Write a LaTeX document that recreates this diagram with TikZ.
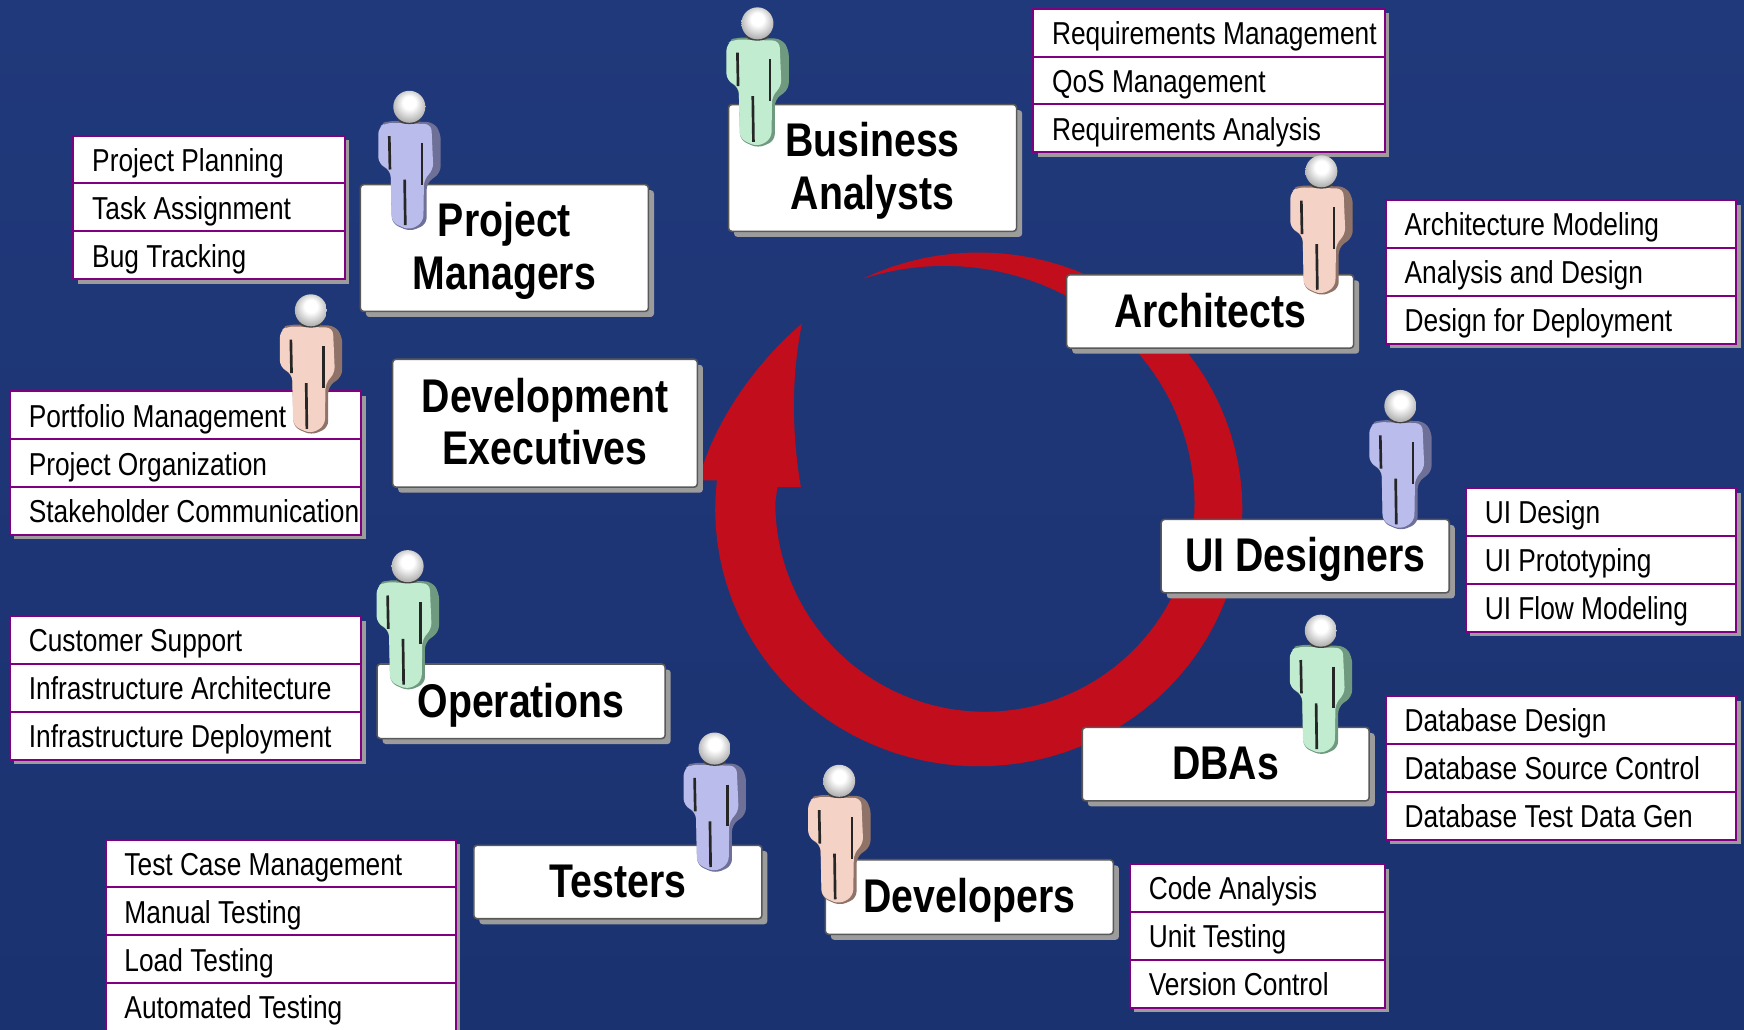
\documentclass[tikz,border=0pt]{standalone}
\usepackage{fontspec}
\setmainfont{Liberation Sans}
\newfontfamily\narrowfont[FakeStretch=0.83]{Liberation Sans}
\usetikzlibrary{shadows}
\definecolor{bgtop}{HTML}{20397A}
\definecolor{bgbottom}{HTML}{1B3270}
\definecolor{arrowred}{HTML}{C20D1D}
\definecolor{listpurple}{HTML}{800080}
\definecolor{shadowgray}{HTML}{9C9C9C}
\definecolor{pink}{HTML}{F5D2C6}\definecolor{pinkdark}{HTML}{8F7268}
\definecolor{mint}{HTML}{C2ECD0}\definecolor{mintdark}{HTML}{6F9A80}
\definecolor{lilac}{HTML}{BABDEB}\definecolor{lilacdark}{HTML}{6E7098}
\pgfdeclareradialshading{headball}{\pgfpoint{0bp}{8bp}}{color(0bp)=(white);color(10bp)=(white);color(26bp)=(black!28);color(50bp)=(black!70)}
\tikzset{
  x=1pt,y=-1pt,
  rolebox/.style={draw=black!65,line width=1.4pt,fill=white,rounded corners=3pt,
    inner sep=0pt,align=center,
    font=\narrowfont\bfseries\fontsize{42.5}{47}\selectfont,
    drop shadow={shadow xshift=5pt,shadow yshift=-5pt,opacity=1,fill=shadowgray}},
  oneline/.style={text height=28.4pt,text depth=0pt},
  twoline/.style={text height=74pt,text depth=0pt},
  listrow/.style={draw=listpurple,line width=1.8pt,fill=white,anchor=north west,
    inner xsep=17pt,inner ysep=0pt,minimum height=43pt,text height=21.4pt,text depth=0pt,
    font=\narrowfont\fontsize{28.5}{32}\selectfont,text=black,
    drop shadow={shadow xshift=4pt,shadow yshift=-4pt,opacity=1,fill=shadowgray}},
  pics/person/.style={code={
    % silhouette with the darker side
    \fill[#1dark,rounded corners=6pt] (-88,52) -- (-62,42) -- (72,46) -- (94,78) -- (94,198)
      -- (52,228) -- (52,352) -- (2,374) -- (-52,350) -- (-56,192) -- (-92,172) -- cycle;
    % front face
    \fill[#1,rounded corners=6pt] (-93,62) -- (-70,48) -- (66,52) -- (72,190) -- (44,216)
      -- (42,346) -- (0,370) -- (-53,346) -- (-56,190) -- (-93,170) -- cycle;
    % slits between arms, body and legs
    \draw[black!85,line width=2.4pt] (-60,88) -- (-58,188);
    \draw[black!85,line width=2.4pt] (38,108) -- (38,233);
    \draw[black!85,line width=2.4pt] (-14,218) -- (-12,355);
    % neck shadow and head
    \fill[black!75] (0,38) ellipse (34 and 14);
    \shade[shading=headball] (0,0) circle (48);
  }}
}
\newcommand{\rolelist}[5]{% name, x, y, width, items
  \pgfmathsetlengthmacro{\rowtext}{#4-34}
  \foreach \itemtext [count=\rowno from 0] in {#5}{
    \node[listrow] (#1-\rowno) at ({#2-1},{#3-1+43*\rowno})
      {\makebox[\rowtext][l]{\itemtext}};
  }
}
\begin{document}
\begin{tikzpicture}
\useasboundingbox (0,0) rectangle (1568,925.2);
\clip (0,0) rectangle (1568,925.2);
\shade[top color=bgtop,bottom color=bgbottom] (0,0) rectangle (1568,925.2);

% circular arrow
\fill[arrowred]
  plot[domain=173.5:475.8,samples=90] ({880+237*cos(\x)},{458-231*sin(\x)})
  -- plot[domain=108.7:0,samples=40] ({849+225*cos(\x)},{452-213*sin(\x)})
  -- plot[domain=360:180,samples=60] ({885.5+188.5*cos(\x)},{452-188*sin(\x)})
  -- (699,438) -- (720,438) .. controls (712,390) and (711,340) .. (721,291)
  .. controls (675,330) and (640,385) .. (628,432) -- cycle;

% role boxes
\node[rolebox,twoline,minimum width=259pt,minimum height=114pt] (ba) at (784.5,151) {Business\\Analysts};
\node[rolebox,twoline,minimum width=259pt,minimum height=114pt] (pm) at (453.5,223) {Project\\Managers};
\node[rolebox,twoline,minimum width=274pt,minimum height=115pt] (de) at (490,380.5) {Development\\Executives};
\node[rolebox,oneline,minimum width=258pt,minimum height=66pt] (ar) at (1088,280) {Architects};
\node[rolebox,oneline,minimum width=259pt,minimum height=66pt] (ui) at (1173.5,500) {UI Designers};
\node[rolebox,oneline,minimum width=258pt,minimum height=66pt] (db) at (1102,687) {DBAs};
\node[rolebox,oneline,minimum width=259pt,minimum height=67pt] (dv) at (871.5,806.5) {Developers};
\node[rolebox,oneline,minimum width=259pt,minimum height=66pt] (te) at (555.5,793) {Testers};
\node[rolebox,oneline,minimum width=259pt,minimum height=67pt] (op) at (468.5,630.5) {Operations};

% activity lists
\rolelist{req}{929}{8}{316}{Requirements Management,QoS Management,Requirements Analysis}
\rolelist{arc}{1246}{180}{315}{Architecture Modeling,Analysis and Design,Design for Deployment}
\rolelist{uid}{1318}{439}{243}{UI Design,UI Prototyping,UI Flow Modeling}
\rolelist{dba}{1246}{626}{315}{Database Design,Database Source Control,Database Test Data Gen}
\rolelist{dev}{1016}{777}{229}{Code Analysis,Unit Testing,Version Control}
\rolelist{tst}{95}{755}{315}{Test Case Management,Manual Testing,Load Testing,Automated Testing}
\rolelist{pmg}{66}{122}{244}{Project Planning,Task Assignment,Bug Tracking}
\rolelist{exe}{9}{352}{316}{Portfolio Management,Project Organization,Stakeholder Communication}
\rolelist{ops}{9}{554}{316}{Customer Support,Infrastructure Architecture,Infrastructure Deployment}

% people
\pic[scale=.3] at (681,21) {person=mint};
\pic[scale=.3] at (368,96) {person=lilac};
\pic[scale=.3] at (279.5,279) {person=pink};
\pic[scale=.3] at (1188,154) {person=pink};
\pic[scale=.3] at (1259,365) {person=lilac};
\pic[scale=.3] at (1187.5,567) {person=mint};
\pic[scale=.3] at (754.5,702) {person=pink};
\pic[scale=.3] at (642.5,673) {person=lilac};
\pic[scale=.3] at (366.5,509) {person=mint};
\end{tikzpicture}
\end{document}
